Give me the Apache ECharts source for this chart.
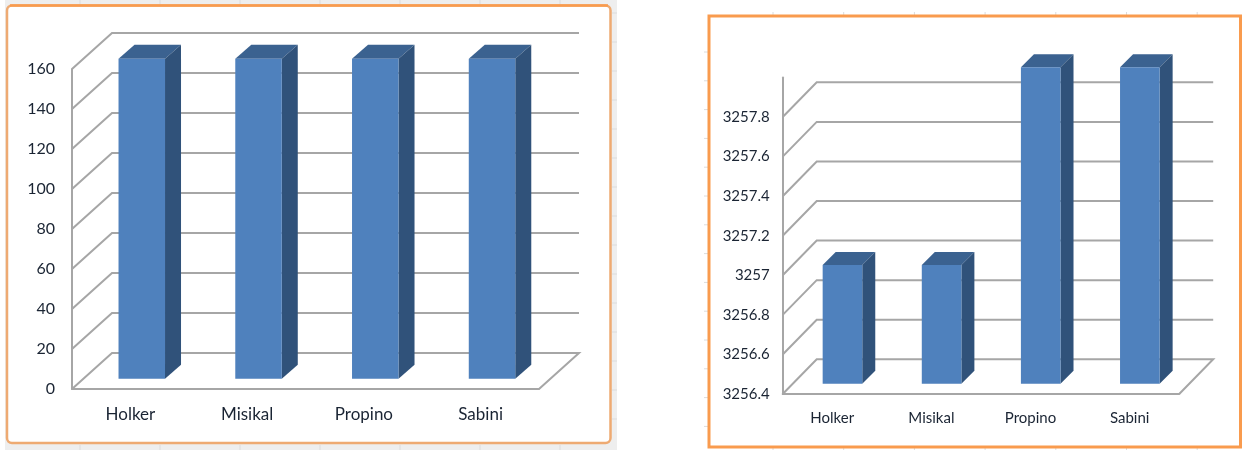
<!DOCTYPE html>
<html>
<head>
<meta charset="utf-8">
<style>
  html, body { margin: 0; padding: 0; background: #fff; }
  #main { width: 1243px; height: 450px; }
</style>
<script src="https://cdn.jsdelivr.net/npm/echarts@6/dist/echarts.min.js"></script>
</head>
<body>
<div id="main"></div>
<script>
// data
const categories = ['Holker', 'Misikal', 'Propino', 'Sabini'];
const leftValues = [160, 160, 160, 160];
const rightValues = [3257, 3257, 3258, 3258];
const leftWallTicks = [0, 20, 40, 60, 80, 100, 120, 140, 160];
const rightWallTicks = [3256.4, 3256.6, 3256.8, 3257, 3257.2, 3257.4, 3257.6, 3257.8];

const font = 'Lato, sans-serif';
const textColor = '#1a2433';
const gridColor = '#a6a6a6';
const frontColor = '#4f81bd';
const topColor = '#3b6290';
const sideColor = '#30527a';

// back wall and floor of the fake 3d box
function wallSeries(idx, ticks, dx, dy) {
    return {
        type: 'custom',
        xAxisIndex: idx,
        yAxisIndex: idx,
        z: 1,
        silent: true,
        data: ticks.map(function (t) { return [0, t]; }),
        encode: { x: 0, y: 1 },
        renderItem: function (params, api) {
            let cs = params.coordSys;
            let y = api.coord([0, api.value(1)])[1];
            let left = cs.x;
            let right = cs.x + cs.width;
            let points = [[left, y], [left + dx, y - dy], [right + dx, y - dy]];
            // the floor closes on the right side
            if (params.dataIndex === 0) {
                points.push([right, y]);
            }
            return {
                type: 'polyline',
                shape: { points: points },
                style: { fill: 'none', stroke: gridColor, lineWidth: 2 }
            };
        }
    };
}

function barSeries(idx, values, barWidth, shiftX, shiftY, depthX, depthY) {
    return {
        type: 'custom',
        xAxisIndex: idx,
        yAxisIndex: idx,
        z: 2,
        silent: true,
        data: values.map(function (v, i) { return [i, v]; }),
        encode: { x: 0, y: 1 },
        renderItem: function (params, api) {
            let cs = params.coordSys;
            let p = api.coord([api.value(0), api.value(1)]);
            let x0 = p[0] + shiftX - barWidth / 2;
            let x1 = x0 + barWidth;
            let yTop = p[1] - shiftY;
            let yBottom = cs.y + cs.height - shiftY;
            return {
                type: 'group',
                children: [
                    {
                        type: 'polygon',
                        shape: { points: [[x0, yTop], [x0 + depthX, yTop - depthY], [x1 + depthX, yTop - depthY], [x1, yTop]] },
                        style: { fill: topColor }
                    },
                    {
                        type: 'polygon',
                        shape: { points: [[x1, yTop], [x1 + depthX, yTop - depthY], [x1 + depthX, yBottom - depthY], [x1, yBottom]] },
                        style: { fill: sideColor }
                    },
                    {
                        type: 'rect',
                        shape: { x: x0, y: yTop, width: barWidth, height: yBottom - yTop },
                        style: { fill: frontColor }
                    }
                ]
            };
        }
    };
}

function catAxis(idx, size, margin) {
    return {
        type: 'category',
        gridIndex: idx,
        data: categories,
        axisTick: { show: false },
        axisLine: { onZero: false, lineStyle: { color: gridColor, width: 2 } },
        axisLabel: { color: textColor, fontFamily: font, fontSize: size, margin: margin }
    };
}

function valAxis(idx, min, max, step, size, margin, hideMax) {
    return {
        type: 'value',
        gridIndex: idx,
        min: min,
        max: max,
        interval: step,
        splitLine: { show: false },
        axisTick: { show: false },
        axisLine: { show: true, lineStyle: { color: gridColor, width: 2 } },
        axisLabel: {
            color: textColor,
            fontFamily: font,
            fontSize: size,
            margin: margin,
            showMaxLabel: !hideMax,
            // no thousands separator in the original
            formatter: function (v) { return String(v); }
        }
    };
}

// faint spreadsheet cell marks showing round the frames
function cellMarks() {
    let marks = [];
    function mark(x1, y1, x2, y2) {
        marks.push({ type: 'line', z: -9, shape: { x1: x1, y1: y1, x2: x2, y2: y2 }, style: { stroke: '#dcdcdc', lineWidth: 1 } });
    }
    for (let x = 80; x < 610; x += 80) {
        mark(x, 0, x, 4);
        mark(x, 445, x, 450);
    }
    for (let y = 13; y < 440; y += 29) {
        mark(612, y, 617, y);
    }
    for (let y = 52; y < 450; y += 28.8) {
        mark(704, y, 708, y);
    }
    for (let x = 773; x < 1240; x += 70.7) {
        mark(x, 12, x, 15);
        mark(x, 448, x, 450);
    }
    return marks;
}

let myChart = echarts.init(document.getElementById('main'), null, { renderer: 'canvas' });

let option = {
    animation: false,
    backgroundColor: '#fff',
    graphic: [
        { type: 'rect', z: -10, shape: { x: 5, y: 0, width: 612, height: 450 }, style: { fill: '#eeeeee' } }
    ].concat(cellMarks(), [
        {
            type: 'rect', z: -8,
            shape: { x: 7, y: 5.5, width: 603.5, height: 437.5, r: 5 },
            style: { fill: '#fff', stroke: '#eeaa72', lineWidth: 2.5 }
        },
        { type: 'line', z: -7, shape: { x1: 10, y1: 5.5, x2: 608, y2: 5.5 }, style: { stroke: '#f99b4e', lineWidth: 2.5 } },
        {
            type: 'rect', z: -8,
            shape: { x: 709, y: 16, width: 531.5, height: 431 },
            style: { fill: '#fff', stroke: '#f99b4e', lineWidth: 3 }
        }
    ]),
    grid: [
        { left: 72, top: 69, width: 467, height: 320 },
        { left: 782.7, top: 77.5, width: 396.5, height: 316.5 }
    ],
    xAxis: [catAxis(0, 17, 17), catAxis(1, 15, 17)],
    yAxis: [
        valAxis(0, 0, 160, 20, 16, 17, false),
        valAxis(1, 3256.4, 3258, 0.2, 15, 13, true)
    ],
    series: [
        wallSeries(0, leftWallTicks, 40, 36),
        wallSeries(1, rightWallTicks, 34, 34.7),
        barSeries(0, leftValues, 46.5, 11.4, 10.2, 16, 14),
        barSeries(1, rightValues, 39.6, 10.2, 10.2, 13, 13)
    ]
};

myChart.setOption(option);
</script>
</body>
</html>
